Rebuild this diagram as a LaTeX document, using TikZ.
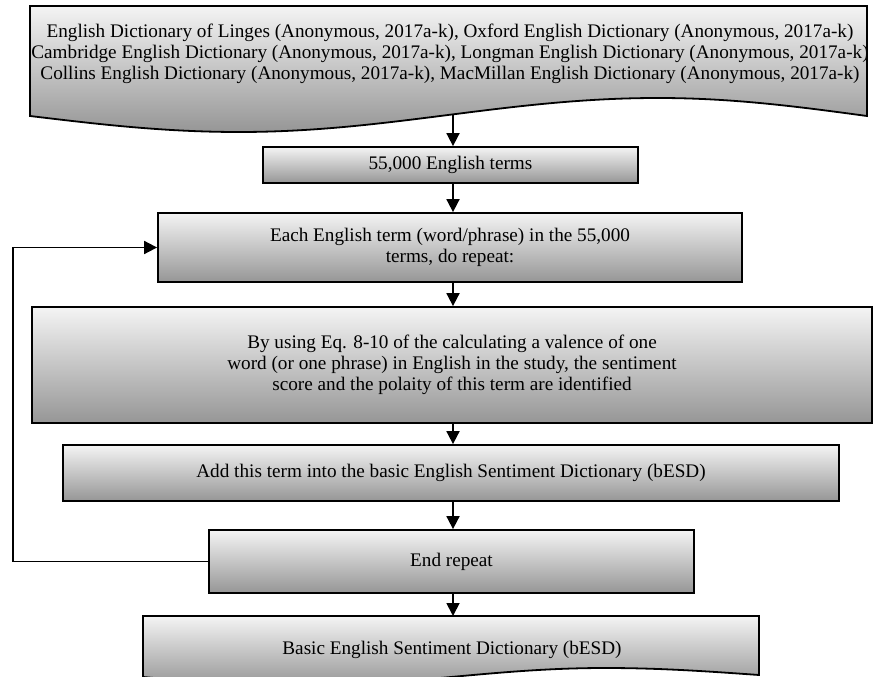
\documentclass[tikz,border=0pt]{standalone}
\usepackage{fontspec}
\setmainfont{Liberation Serif}
\usetikzlibrary{arrows.meta,calc}

\definecolor{shadetop}{HTML}{F4F4F4}
\definecolor{shadebot}{HTML}{969696}

\begin{document}
\begin{tikzpicture}[x=1pt,y=-1pt,
  every node/.style={font=\fontsize{19.2}{21}\selectfont, text=black},
  stepbox/.style={draw=black, line width=1.8pt, top color=shadetop, bottom color=shadebot,
    rectangle, inner sep=0pt, align=center},
  docshape/.style={draw=black, line width=1.8pt, top color=shadetop, bottom color=shadebot},
  label/.style={inner sep=0pt, align=center},
  flow/.style={line width=1.8pt, -{Triangle[length=13pt,width=13pt]}}]

\useasboundingbox (0,0) rectangle (873,677);
\clip (0,0) rectangle (873,677);

% source dictionaries (document shape)
\path[docshape] (30,6) -- (867,6) -- (867,116)
  sin (658,98) cos (448,115) sin (239,132) cos (30,116) -- cycle;
\node[label] (src) at (450,54) {English Dictionary of Linges (Anonymous, 2017a-k), Oxford English Dictionary (Anonymous, 2017a-k)\\
Cambridge English Dictionary (Anonymous, 2017a-k), Longman English Dictionary (Anonymous, 2017a-k)\\
Collins English Dictionary (Anonymous, 2017a-k), MacMillan English Dictionary (Anonymous, 2017a-k)};
\coordinate (srcout) at (453,115);

% process steps
\node[stepbox, minimum width=375pt, minimum height=36pt] (terms) at (450.5,165) {55,000 English terms};
\node[stepbox, minimum width=584pt, minimum height=69pt] (each) at (450,247.5)
  {Each English term (word/phrase) in the 55,000\\ terms, do repeat:};
\node[stepbox, minimum width=840pt, minimum height=116pt] (calc) at (452,365)
  {By using Eq. 8-10 of the calculating a valence of one\\
   word (or one phrase) in English in the study, the sentiment\\
   score and the polaity of this term are identified};
\node[stepbox, minimum width=776pt, minimum height=56pt] (add) at (451,473)
  {Add this term into the basic English Sentiment Dictionary (bESD)};
\node[stepbox, minimum width=485pt, minimum height=63pt] (endr) at (451.5,561.5) {End repeat};

% result dictionary (document shape)
\path[docshape] (143,616) -- (759,616) -- (759,675)
  sin (605,668) cos (451,677) sin (297,686) cos (143,677) -- cycle;
\node[label] (result) at (452,650) {Basic English Sentiment Dictionary (bESD)};
\coordinate (resin) at (453,616);
\coordinate (loopx) at (13,0);

% connectors
\draw[flow] (srcout) -- (srcout |- terms.north);
\draw[flow] (terms.south -| srcout) -- (srcout |- each.north);
\draw[flow] (each.south -| srcout) -- (srcout |- calc.north);
\draw[flow] (calc.south -| srcout) -- (srcout |- add.north);
\draw[flow] (add.south -| srcout) -- (srcout |- endr.north);
\draw[flow] (endr.south -| srcout) -- (resin);
\draw[flow] (endr.west) -- (endr.west -| loopx) |- (each.west);
\end{tikzpicture}
\end{document}
